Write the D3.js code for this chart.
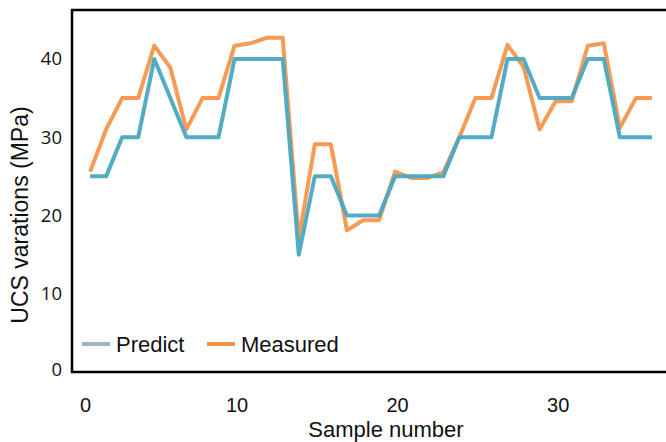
<!DOCTYPE html>
<html>
<head>
<meta charset="utf-8">
<script src="https://cdn.jsdelivr.net/npm/d3@7"></script>
<style>
  body { margin:0; background:#fff; }
  svg { display:block; }
</style>
</head>
<body>
<div id="chart"></div>
<script>
var svgW = 666,
    svgH = 442;

// sample numbers 1..36
var samples = d3.range(1, 37);
var predict = [25,25,30,30,40,35,30,30,30,40,40,40,40,15,25,25,20,20,20,25,25,25,25,30,30,30,40,40,35,35,35,40,40,30,30,30];
var measured = [25.6,31,35,35,41.7,38.9,31,35,35,41.7,42,42.7,42.7,17,29.1,29.1,18.1,19.4,19.4,25.6,24.8,24.8,25.5,30,35,35,41.8,39,31,34.6,34.6,41.7,42,31.2,35,35];
var xTicks = [0,10,20,30];
var yTicks = [0,10,20,30,40];

var x = d3.scaleLinear().domain([0, 36]).range([74, 652]);
var y = d3.scaleLinear().domain([0, 46.26]).range([372, 10]);

var svg = d3.select('#chart').append('svg')
  .attr('width', svgW)
  .attr('height', svgH);

// plot frame (right side runs off the picture)
svg.append('rect')
  .attr('x', 72).attr('y', 10)
  .attr('width', 640).attr('height', 362)
  .attr('fill', 'none')
  .attr('stroke', '#000')
  .attr('stroke-width', 2.5);

// x axis labels
var xAxis = svg.append('g')
  .attr('transform', 'translate(0,' + 372 + ')')
  .call(d3.axisBottom(x).tickValues(xTicks).tickSize(0).tickPadding(26).tickFormat(d3.format('d')));
xAxis.select('.domain').remove();
xAxis.selectAll('text')
  .attr('font-family', 'Liberation Sans, Arial, sans-serif')
  .attr('font-size', 20)
  .attr('fill', '#111')
  .attr('dx', function(d){ return d === 0 ? 11 : 2; });

// y axis labels
var yAxis = svg.append('g')
  .attr('transform', 'translate(72,0)')
  .call(d3.axisLeft(y).tickValues(yTicks).tickSize(0).tickPadding(10).tickFormat(d3.format('d')));
yAxis.select('.domain').remove();
yAxis.selectAll('text')
  .attr('font-family', 'Open Sans, sans-serif')
  .attr('font-size', 18.5)
  .attr('fill', '#111')
  .attr('dy', function(d){ return d === 0 ? '0.2em' : '0.32em'; });

// axis titles
svg.append('text')
  .attr('x', 386).attr('y', 437)
  .attr('text-anchor', 'middle')
  .attr('font-family', 'Liberation Sans, Arial, sans-serif')
  .attr('font-size', 22)
  .attr('fill', '#111')
  .text('Sample number');

svg.append('text')
  .attr('transform', 'translate(28,' + 215 + ') rotate(-90)')
  .attr('text-anchor', 'middle')
  .attr('font-family', 'Liberation Sans, Arial, sans-serif')
  .attr('font-size', 23)
  .attr('fill', '#111')
  .text('UCS varations (MPa)');

// lines
var line = d3.line()
  .x(function(d){ return x(d[0]); })
  .y(function(d){ return y(d[1]); });

var series = [
  {name:'Measured', values:measured, color:'#f4964b'},
  {name:'Predict', values:predict, color:'#4aa8c2'}
];

svg.append('g').selectAll('path')
  .data(series)
  .enter()
  .append('path')
    .attr('d', function(s){ return line(samples.map(function(n, i){ return [n, s.values[i]]; })); })
    .attr('fill', 'none')
    .attr('stroke', function(s){ return s.color; })
    .attr('stroke-width', 4)
    .attr('stroke-linejoin', 'round')
    .attr('opacity', 0.95);

// legend
var legendItems = [
  {name:'Predict', color:'#9cb8c6', x:82},
  {name:'Measured', color:'#f0914a', x:207}
];
var lg = svg.append('g').selectAll('g')
  .data(legendItems)
  .enter()
  .append('g')
    .attr('transform', function(d){ return 'translate(' + d.x + ',344)'; });
lg.append('line')
  .attr('x1', 0).attr('x2', 28)
  .attr('stroke', function(d){ return d.color; })
  .attr('stroke-width', 4);
lg.append('text')
  .attr('x', 34).attr('y', 8)
  .attr('font-family', 'Liberation Sans, Arial, sans-serif')
  .attr('font-size', 22)
  .attr('fill', '#111')
  .text(function(d){ return d.name; });
</script>
</body>
</html>
